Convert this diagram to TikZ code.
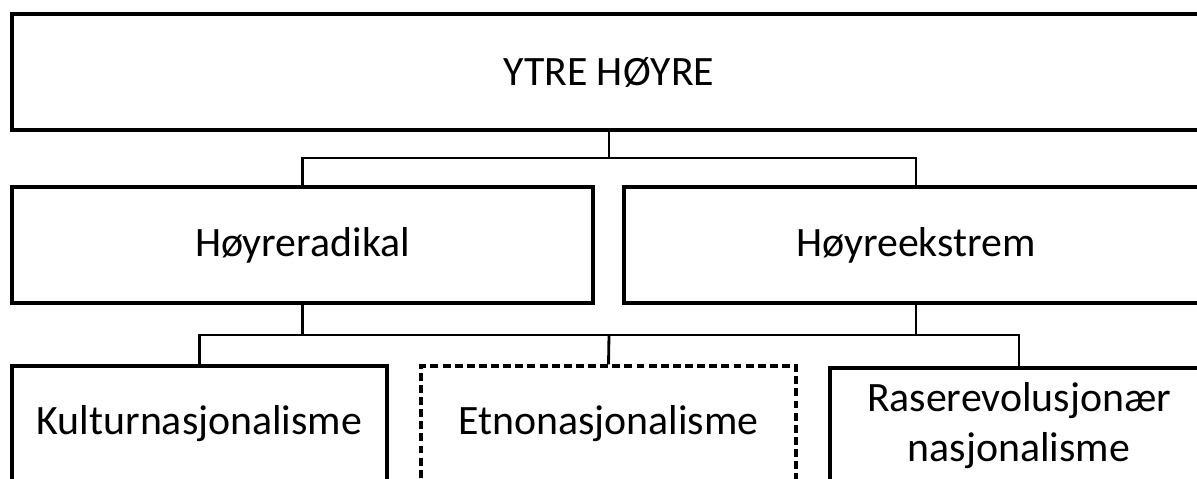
\documentclass[tikz,border=0pt]{standalone}
\usepackage{fontspec}
\setmainfont{Carlito}
\usetikzlibrary{calc}
\begin{document}
\begin{tikzpicture}[x=0.02cm,y=-0.02cm,
  every node/.style={font=\fontsize{23.8}{28.5}\selectfont, inner sep=0pt, align=center},
  boxstyle/.style={draw=black, line width=1.8pt, minimum height=116*0.02cm},
  dashbox/.style={boxstyle, dash pattern=on 4.5pt off 2.4pt},
  conn/.style={draw=black, line width=1.6pt}]
\useasboundingbox (0,0) rectangle (1197,479);
\clip (0,0) rectangle (1197,479);
\fill[white] (0,0) rectangle (1197,479);
\node[boxstyle, minimum width=1194*0.02cm] (top) at (609,72) {YTRE HØYRE};
\node[boxstyle, minimum width=581*0.02cm] (rl) at (302.5,245) {Høyreradikal};
\node[boxstyle, minimum width=584*0.02cm] (rr) at (916,245) {Høyreekstrem};
\node[boxstyle, minimum width=375*0.02cm] (kl) at (199.5,424) {Kulturnasjonalisme};
\node[dashbox, minimum width=375*0.02cm] (en) at (608.5,424) {Etnonasjonalisme};
\node[boxstyle, minimum width=378*0.02cm] (rs) at (1019,426) {Raserevolusjonær\\nasjonalisme};
\coordinate (j1) at (609,158);
\coordinate (j2) at (609,335);
\draw[conn] (top.south) -- (j1);
\draw[conn] (rl.north) |- (j1) -| (rr.north);
\draw[conn] (rl.south) -- (rl.south |- j2);
\draw[conn] (rr.south) -- (rr.south |- j2);
\draw[conn] (kl.north) |- (j2) -| (rs.north);
\draw[conn] (j2) -- (en.north);
\end{tikzpicture}
\end{document}
